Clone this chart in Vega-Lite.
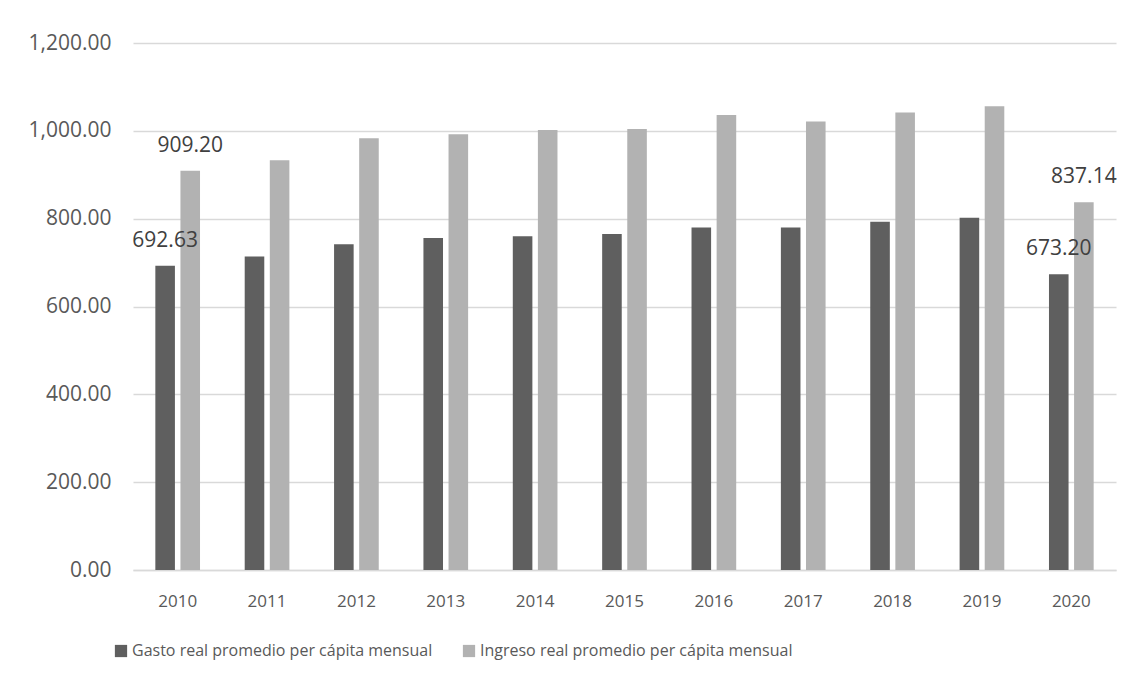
{
  "$schema": "https://vega.github.io/schema/vega-lite/v6.json",
  "autosize": {"type": "none"},
  "padding": {"left": 133, "top": 43, "right": 18, "bottom": 114},
  "width": 983,
  "height": 527,
  "background": "white",
  "config": {"view": {"stroke": null}},
  "data": {
    "values": [
      {"year": "2010", "serie": "Gasto  real promedio per cápita mensual", "valor": 692.63},
      {"year": "2010", "serie": "Ingreso real promedio per cápita mensual", "valor": 909.20},
      {"year": "2011", "serie": "Gasto  real promedio per cápita mensual", "valor": 714},
      {"year": "2011", "serie": "Ingreso real promedio per cápita mensual", "valor": 933},
      {"year": "2012", "serie": "Gasto  real promedio per cápita mensual", "valor": 742},
      {"year": "2012", "serie": "Ingreso real promedio per cápita mensual", "valor": 983},
      {"year": "2013", "serie": "Gasto  real promedio per cápita mensual", "valor": 756},
      {"year": "2013", "serie": "Ingreso real promedio per cápita mensual", "valor": 992},
      {"year": "2014", "serie": "Gasto  real promedio per cápita mensual", "valor": 760},
      {"year": "2014", "serie": "Ingreso real promedio per cápita mensual", "valor": 1002},
      {"year": "2015", "serie": "Gasto  real promedio per cápita mensual", "valor": 765},
      {"year": "2015", "serie": "Ingreso real promedio per cápita mensual", "valor": 1004},
      {"year": "2016", "serie": "Gasto  real promedio per cápita mensual", "valor": 780},
      {"year": "2016", "serie": "Ingreso real promedio per cápita mensual", "valor": 1036},
      {"year": "2017", "serie": "Gasto  real promedio per cápita mensual", "valor": 780},
      {"year": "2017", "serie": "Ingreso real promedio per cápita mensual", "valor": 1021},
      {"year": "2018", "serie": "Gasto  real promedio per cápita mensual", "valor": 793},
      {"year": "2018", "serie": "Ingreso real promedio per cápita mensual", "valor": 1042},
      {"year": "2019", "serie": "Gasto  real promedio per cápita mensual", "valor": 802},
      {"year": "2019", "serie": "Ingreso real promedio per cápita mensual", "valor": 1056},
      {"year": "2020", "serie": "Gasto  real promedio per cápita mensual", "valor": 673.20},
      {"year": "2020", "serie": "Ingreso real promedio per cápita mensual", "valor": 837.14}
    ]
  },
  "encoding": {
    "x": {
      "field": "year", "type": "ordinal",
      "scale": {"paddingInner": 0.5, "paddingOuter": 0.25},
      "axis": {
        "title": null, "labelAngle": 0, "ticks": false,
        "domainColor": "#d9d9d9", "domainWidth": 1.5,
        "labelFont": "Open Sans",
        "labelFontSize": 17, "labelColor": "#595959", "labelPadding": 23
      }
    },
    "xOffset": {
      "field": "serie", "type": "nominal",
      "scale": {"paddingInner": 0.22, "paddingOuter": 0},
      "sort": ["Gasto  real promedio per cápita mensual", "Ingreso real promedio per cápita mensual"]
    },
    "y": {
      "field": "valor", "type": "quantitative",
      "scale": {"domain": [0, 1200], "nice": false},
      "axis": {
        "title": null, "values": [0, 200, 400, 600, 800, 1000, 1200],
        "format": ",.2f", "domain": false, "ticks": false,
        "gridColor": "#d9d9d9", "gridWidth": 1.5,
        "labelFont": "Open Sans", "labelFontSize": 21, "labelColor": "#595959",
        "labelPadding": 22
      }
    }
  },
  "layer": [
    {
      "mark": {"type": "bar"},
      "encoding": {
        "color": {
          "field": "serie", "type": "nominal",
          "scale": {
            "domain": ["Gasto  real promedio per cápita mensual", "Ingreso real promedio per cápita mensual"],
            "range": ["#5f5f5f", "#b2b2b2"]
          },
          "legend": {
            "title": null, "orient": "none", "direction": "horizontal",
            "legendX": -20, "legendY": 600,
            "symbolType": "square", "symbolSize": 150, "symbolStrokeWidth": 0,
            "labelFont": "Open Sans",
            "labelFontSize": 16, "labelColor": "#595959", "labelLimit": 400,
            "labelOffset": 3, "columnPadding": 24
          }
        }
      }
    },
    {
      "transform": [{"filter": "datum.year == '2010' || datum.year == '2020'"}],
      "mark": {"type": "text", "baseline": "middle", "dy": -25, "font": "Open Sans", "fontSize": 21, "color": "#404040"},
      "encoding": {
        "text": {"field": "valor", "type": "quantitative", "format": ",.2f"}
      }
    }
  ]
}
